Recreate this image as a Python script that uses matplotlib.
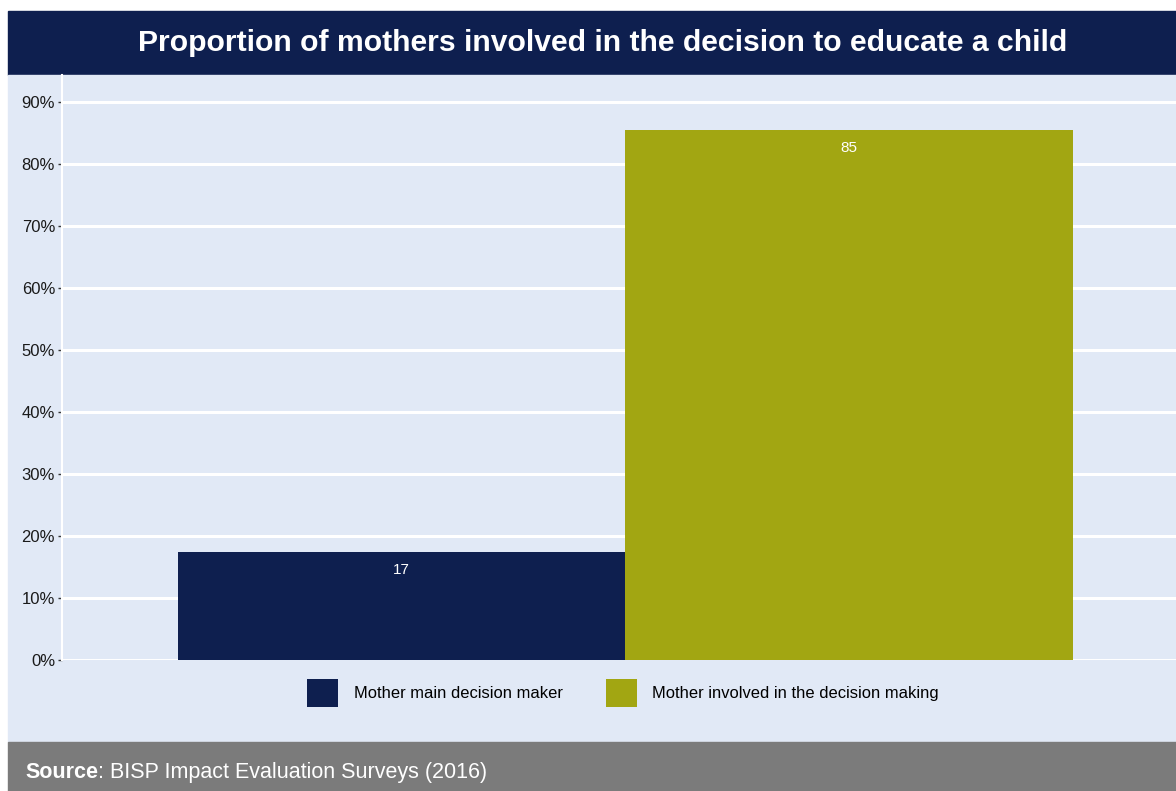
import matplotlib
matplotlib.use("Agg")
import matplotlib.pyplot as plt
from matplotlib.patches import Rectangle
from matplotlib.ticker import FuncFormatter

# Data
categories = ["Mother main decision maker", "Mother involved in the decision making"]
values = [17.4, 85.4]
colors = ["#0E1F4F", "#A2A612"]
title = "Proportion of mothers involved in the decision to educate a child"
source_text = "BISP Impact Evaluation Surveys (2016)"
yticks = [0, 10, 20, 30, 40, 50, 60, 70, 80, 90]

plt.rcParams["font.family"] = ["Liberation Sans", "DejaVu Sans"]

W, H = 1176, 791
fig = plt.figure(figsize=(W / 100, H / 100), dpi=100)
fig.patch.set_facecolor("white")

def fx(px):
    return px / W

def fy(py):
    return (H - py) / H

# Background bands: title banner, panel, footer
fig.add_artist(Rectangle((fx(8), fy(75)), 1 - fx(8), fy(11) - fy(75),
                         transform=fig.transFigure, color="#0E1F4F", zorder=0))
fig.add_artist(Rectangle((fx(8), fy(742)), 1 - fx(8), fy(75) - fy(742),
                         transform=fig.transFigure, color="#E1E9F6", zorder=0))
fig.add_artist(Rectangle((fx(8), 0), 1 - fx(8), fy(742),
                         transform=fig.transFigure, color="#7B7B7B", zorder=0))

fig.text(fx(602.5), fy(43), title, color="white", fontsize=21.7, fontweight="bold",
         ha="center", va="center")

# Footer: bold "Source" followed by the plain-text reference
renderer = fig.canvas.get_renderer()
src = fig.text(fx(25), fy(778), "Source", color="white", fontsize=15.5,
               fontweight="bold", ha="left", va="baseline")
src_w = src.get_window_extent(renderer).width
fig.text(fx(25 + src_w), fy(778), ": " + source_text, color="white", fontsize=15.5,
         ha="left", va="baseline")

ax = fig.add_axes([fx(62), fy(660), 1 - fx(62), fy(75) - fy(660)])
ax.patch.set_alpha(0)

x = list(range(len(categories)))
bars = ax.bar(x, values, width=1.0, color=colors, label=categories, zorder=3)
for b, v in zip(bars, values):
    ax.annotate(f"{v:.0f}", (b.get_x() + b.get_width() / 2, v),
                xytext=(0, -18), textcoords="offset pixels",
                ha="center", va="center", color="white", fontsize=11, zorder=4)

ax.set_xlim(-0.759, 1.730)
ax.set_ylim(0, 94.35)
ax.set_yticks(yticks)
ax.yaxis.set_major_formatter(FuncFormatter(lambda v, p: f"{v:.0f}%"))
ax.set_xticks([])
ax.grid(axis="y", color="white", linewidth=2.2, zorder=1)
ax.set_axisbelow(True)
for s in ["top", "right", "bottom"]:
    ax.spines[s].set_visible(False)
ax.spines["left"].set_color("white")
ax.spines["left"].set_linewidth(1.5)
ax.tick_params(axis="y", length=3, width=1, color="#333333", labelsize=12,
               labelcolor="#1a1a1a", pad=2.0)

fig.legend(handles=bars, labels=categories, loc="center", ncol=2,
           bbox_to_anchor=(fx(623), fy(693)), frameon=False, fontsize=11.9,
           handlelength=1.88, handleheight=2.3, handletextpad=0.95,
           columnspacing=2.6)

fig.savefig("out.png", dpi=100, facecolor=fig.get_facecolor())
